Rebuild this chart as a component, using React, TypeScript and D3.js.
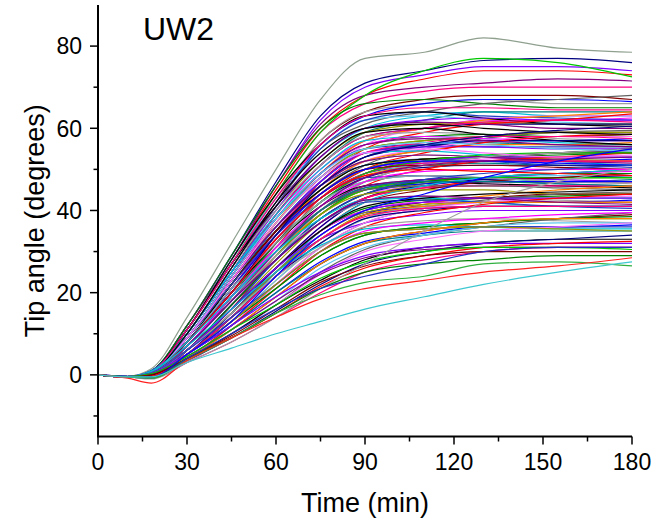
import React, { useMemo } from "react";
import * as d3 from "d3";

// Sampling times (min) for each tip-angle trace
const TIMES = [0, 10, 18, 30, 45, 60, 75, 90, 110, 130, 155, 180];

// Traces, grouped by final angle band (degrees)
const band75to82 = [
  [0, -0.3, 1.5, 14, 32, 50, 67, 77, 78.5, 82, 79.5, 78.5],
  [0, -0.4, 1, 12, 29, 47, 63, 71, 74, 76.5, 77, 76],
  [0, -0.3, 1, 12, 29, 46, 62, 70, 73, 75, 75, 74],
  [0, -0.5, 0.5, 11, 28, 45, 60, 68, 72, 74, 74, 73],
];
const band65to72 = [
  [0, -0.4, 0.8, 12, 28, 46, 61, 68, 70, 71, 72, 71.5],
  [0, -0.6, 0.3, 11, 27, 44, 59, 66, 69, 70, 70, 70],
  [0, -0.5, 0.5, 11, 27, 44, 59, 68, 74, 77, 76, 72.5],
  [0, -0.4, 0.2, 10, 26, 42, 57, 64, 67, 68, 68, 67],
  [0, -0.5, 0.5, 11, 27, 43, 57, 64, 66, 67, 66, 66],
  [0, -0.6, 0, 10, 25, 41, 56, 63, 66, 67, 67, 66.5],
  [0, -0.5, 1, 12, 29, 46, 60, 66, 67, 66, 65, 65],
  [0, -0.4, 0.3, 10, 25, 41, 55, 61, 64, 66, 67, 68],
];
const band60to65 = [
  [0, -0.5, 0.5, 10, 26, 41, 53, 60, 63, 64, 63, 63],
  [0, -0.5, 0, 9, 24, 39, 51, 59, 62, 64, 64, 64],
  [0, -0.3, 1, 11, 28, 43, 55, 62, 63, 62, 61.5, 61],
  [0, -0.6, -0.3, 9, 23, 38, 50, 57, 60, 62, 62, 62.5],
  [0, -0.5, 0.8, 11, 27, 42, 55, 62, 64, 63, 62.5, 62],
  [0, -0.5, -0.5, 8, 21, 35, 48, 56, 60, 62, 63, 63],
  [0, -0.4, 0.5, 10, 25, 40, 52, 59, 61, 61.5, 61, 61],
  [0, -0.6, -0.3, 9, 22, 37, 49, 57, 60, 62, 63, 64],
  [0, -0.5, 1, 11, 28, 44, 56, 63, 64, 62.5, 61, 60.5],
  [0, -0.5, 0.2, 9, 24, 39, 51, 58, 60, 61, 61, 61],
  [0, -0.4, 0.5, 10, 25, 40, 53, 60, 62, 62.5, 62, 62],
  [0, -0.5, -0.5, 8, 20, 34, 47, 55, 59, 61, 62, 63.5],
  [0, -0.5, 0.6, 10, 26, 41, 53, 60, 61.5, 61, 60, 60],
  [0, -0.6, 0, 9, 24, 39, 51, 58, 60, 61.5, 62, 61.5],
];
const band55to60 = [
  [0, -0.5, 0.3, 9, 23, 37, 48, 55, 57, 58, 58, 58],
  [0, -0.5, -0.3, 8, 21, 35, 46, 53, 56, 58, 59, 59],
  [0, -0.3, 1, 10, 26, 40, 51, 58, 59, 58.5, 57.5, 57],
  [0, -0.6, 0, 9, 22, 36, 47, 54, 56, 57, 57, 57.5],
  [0, -0.5, 0.5, 9, 24, 38, 49, 56, 58, 58.5, 58, 58.5],
  [0, -0.5, -0.6, 7, 19, 32, 44, 51, 55, 57.5, 59, 59.5],
  [0, -0.4, 0.8, 10, 25, 39, 50, 57, 58, 57.5, 56.5, 56],
  [0, -0.5, 0.2, 9, 22, 36, 47, 54, 56, 56.5, 56, 56],
  [0, -0.6, -0.3, 8, 21, 34, 46, 53, 55.5, 57, 57, 57],
  [0, -0.5, 0.5, 9, 24, 38, 49, 56, 58, 57.5, 57, 57],
  [0, -0.4, 1, 10, 25, 38, 49, 55, 56, 55.5, 55.5, 55.5],
  [0, -0.5, -0.4, 8, 20, 33, 45, 52, 55, 57, 58, 58],
  [0, -0.5, 0.3, 9, 23, 37, 48, 55, 57, 58, 59, 59],
  [0, -0.6, -0.2, 8, 21, 34, 45, 52, 54.5, 56, 56, 56.5],
  [0, -0.5, 0.8, 11, 27, 41, 52, 59, 60, 58.5, 57, 56],
  [0, -0.5, 0, 8, 22, 35, 46, 53, 55.5, 57, 57, 57],
  [0, -0.4, 0.4, 9, 23, 36, 47, 54, 55.5, 55.5, 55, 55],
  [0, -0.5, -0.6, 7, 18, 31, 43, 50, 54, 56.5, 58, 58.5],
  [0, -0.5, 0.5, 9, 24, 38, 49, 56, 57.5, 57, 56, 55.5],
  [0, -0.6, 0, 8, 21, 35, 46, 54, 56.5, 58, 58, 57.5],
];
const band50to55 = [
  [0, -0.5, 0.3, 8, 21, 34, 44, 50, 52.5, 53, 53, 53],
  [0, -0.5, -0.3, 7, 19, 32, 42, 49, 52, 53, 54, 54],
  [0, -0.4, 0.8, 9, 23, 36, 46, 52, 53.5, 53, 52, 52],
  [0, -0.6, 0, 8, 20, 33, 43, 49, 51.5, 52, 52, 52.5],
  [0, -0.5, 0.4, 8, 22, 35, 45, 51, 52.5, 53, 53.5, 54],
  [0, -0.5, -0.6, 6, 17, 29, 40, 47, 51, 53, 54, 54.5],
  [0, -0.4, 1, 10, 25, 38, 48, 54, 54.5, 53.5, 52, 51],
  [0, -0.5, 0.2, 8, 20, 33, 43, 49, 51, 51.5, 51, 51],
  [0, -0.6, -0.3, 7, 18, 31, 41, 48, 51.5, 53, 53, 53],
  [0, -0.5, 0.4, 8, 21, 34, 44, 50, 52, 52, 52, 52],
  [0, -0.4, 0.8, 9, 23, 36, 46, 51, 52.5, 52, 51, 50.5],
  [0, -0.5, -0.5, 6, 17, 30, 41, 48, 51, 52.5, 53, 53.5],
  [0, -0.5, 0.3, 8, 21, 34, 44, 50, 52.5, 53, 52.5, 52],
  [0, -0.6, -0.2, 7, 19, 32, 42, 48.5, 51, 52, 52, 52],
  [0, -0.5, 0.5, 8, 22, 35, 45, 51, 52.5, 53, 54, 55],
  [0, -0.5, 0, 7, 19, 32, 42, 48, 50.5, 51, 51, 51],
  [0, -0.4, 0.4, 8, 21, 34, 44, 50, 52, 53, 53, 53],
  [0, -0.5, -0.6, 6, 16, 29, 39, 46, 50, 52, 53, 54],
  [0, -0.5, 0.6, 9, 23, 36, 46, 52, 53.5, 53, 52, 51.5],
  [0, -0.6, 0, 8, 20, 33, 43, 49, 51.5, 52, 52, 52],
  [0, -0.5, 0.1, 7, 19, 32, 42, 49, 52, 53.5, 54, 54],
  [0, -0.4, 0.7, 9, 22, 35, 44, 50, 51, 51, 50.5, 50],
  [0, -0.5, -0.5, 6, 17, 29, 40, 47, 51, 53, 54, 55],
  [0, -0.5, 0.4, 8, 21, 34, 44, 50, 52, 52, 51.5, 51],
];
const band45to50 = [
  [0, -0.5, 0.2, 7, 19, 30, 40, 45, 47.5, 48, 48, 48],
  [0, -0.5, -0.3, 6, 17, 28, 38, 44, 47, 48, 49, 49],
  [0, -0.4, 0.7, 8, 21, 32, 42, 47, 48.5, 48, 47, 47],
  [0, -0.6, 0, 7, 18, 29, 39, 45, 46.5, 47, 47, 47.5],
  [0, -0.5, 0.3, 7, 19, 31, 40, 46, 47.5, 48, 48.5, 49],
  [0, -0.5, -0.6, 5, 15, 26, 36, 43, 46, 48, 49, 49.5],
  [0, -0.4, 1, 9, 22, 34, 43, 48, 48.5, 47.5, 46.5, 46],
  [0, -0.5, 0.1, 7, 18, 29, 38, 44, 46, 46.5, 46, 46],
  [0, -0.6, -0.3, 6, 16, 27, 37, 43, 46.5, 48, 48, 48],
  [0, -0.5, 0.3, 7, 19, 30, 39, 45, 47, 47, 47, 47],
  [0, -0.4, 0.7, 8, 20, 32, 41, 46, 47, 46.5, 46, 45.5],
  [0, -0.5, -0.5, 5, 15, 26, 36, 43, 46, 47.5, 48, 48.5],
  [0, -0.5, 0.3, 7, 19, 30, 40, 45.5, 47.5, 48, 47.5, 47],
  [0, -0.6, -0.2, 6, 17, 28, 37, 43, 45.5, 47, 47, 47],
  [0, -0.5, 0.4, 7, 19, 30, 40, 46, 47.5, 48, 49, 50],
  [0, -0.5, 0, 6, 17, 28, 37, 43, 45.5, 46, 46, 46],
  [0, -0.4, 0.3, 7, 18, 29, 39, 45, 47, 48, 48, 48],
  [0, -0.5, -0.6, 5, 14, 25, 35, 42, 45, 47, 48, 49],
  [0, -0.5, 0.6, 8, 21, 32, 42, 47, 48.5, 48, 47, 46.5],
  [0, -0.6, 0, 6, 17, 28, 38, 44, 46.5, 47, 47, 47],
  [0, -0.5, 0, 6, 17, 28, 38, 44, 47, 48, 49, 49],
  [0, -0.4, 0.6, 8, 20, 31, 40, 45, 46, 46, 45.5, 45],
  [0, -0.5, -0.5, 5, 14, 25, 35, 42, 46, 48, 49, 50],
  [0, -0.5, 0.3, 7, 19, 30, 40, 45.5, 47, 47, 46.5, 46],
];
const bandMixed = [
  [0, -0.4, 0.6, 9, 24, 38, 49, 55, 56.5, 56, 55, 54.5],
  [0, -0.5, 0, 7, 19, 31, 41, 47, 49.5, 50, 50, 50],
  [0, -0.6, -0.4, 6, 16, 28, 38, 44, 47.5, 49, 50, 51],
  [0, -0.5, 0.5, 9, 23, 37, 48, 54, 55, 54, 53, 53],
  [0, -0.4, 0.2, 7, 18, 29, 39, 44, 45, 45, 44, 44],
  [0, -0.5, -0.5, 5, 13, 23, 32, 38, 41.5, 43.5, 45, 46],
  [0, -0.5, 0.7, 10, 26, 42, 54, 60, 61, 60, 59, 58.5],
  [0, -0.6, -0.2, 8, 20, 34, 46, 53, 56, 58, 59.5, 60.5],
  [0, -0.4, 0.3, 6, 15, 25, 33, 37, 39, 40, 40, 40],
  [0, -0.5, 0.5, 8, 20, 33, 43, 48.5, 50, 49.5, 49, 48.5],
  [0, -0.5, -0.3, 7, 18, 30, 41, 48, 51, 52, 52.5, 53],
  [0, -0.4, 0.8, 11, 27, 43, 56, 63, 65, 65, 64.5, 64.5],
];
const band40to45 = [
  [0, -0.5, 0.2, 6, 16, 26, 35, 40, 42, 43, 43, 43],
  [0, -0.5, -0.3, 5, 14, 24, 33, 39, 42, 43, 44, 44],
  [0, -0.4, 0.6, 7, 18, 29, 37, 42, 43.5, 43, 42.5, 42],
  [0, -0.6, 0, 6, 15, 25, 34, 39.5, 41, 42, 42, 42.5],
  [0, -0.5, 0.3, 6, 16, 26, 35, 40.5, 42.5, 43, 43.5, 44],
  [0, -0.5, -0.6, 4, 12, 22, 31, 37, 40.5, 42.5, 44, 44.5],
  [0, -0.4, 0.9, 8, 19, 30, 38, 42.5, 43, 42, 41, 41],
  [0, -0.5, 0.1, 6, 15, 25, 33, 39, 40.5, 41, 41, 41],
  [0, -0.6, -0.3, 5, 13, 23, 32, 38, 41, 42, 43, 43],
  [0, -0.5, 0.3, 6, 16, 26, 35, 40, 42, 42, 42, 42],
  [0, -0.4, 0.7, 7, 18, 28, 37, 42, 42.5, 42, 41, 40.5],
  [0, -0.5, -0.5, 4, 12, 22, 31, 37, 40.5, 42, 43, 43.5],
  [0, -0.5, 0.2, 6, 15, 25, 34, 39.5, 41.5, 42, 42, 42],
  [0, -0.6, -0.2, 5, 14, 24, 33, 39, 41, 42, 42, 42],
  [0, -0.5, 0.4, 6, 16, 26, 35, 41, 43, 44, 44.5, 45],
  [0, -0.5, 0, 5, 14, 24, 32, 38, 40, 41, 41, 41],
  [0, -0.4, 0.3, 6, 16, 26, 34, 40, 42, 43, 43, 43],
  [0, -0.5, -0.6, 4, 12, 21, 30, 36, 39.5, 41.5, 43, 44],
  [0, -0.5, 0.6, 7, 18, 28, 37, 42.5, 43.5, 43, 42, 41.5],
  [0, -0.6, 0, 5, 14, 24, 33, 38.5, 40.5, 41, 41, 41],
];
const band35to40 = [
  [0, -0.5, 0.1, 5, 13, 21, 29, 34, 36, 37, 38, 38],
  [0, -0.5, -0.4, 4, 11, 19, 27, 32, 35, 37, 38, 39],
  [0, -0.4, 0.5, 6, 15, 24, 31, 36, 37.5, 38, 37.5, 37],
  [0, -0.6, -0.2, 5, 12, 20, 27.5, 32.5, 34.5, 36, 36, 36.5],
  [0, -0.5, 0.2, 5, 13, 21, 29, 34, 36, 37, 38, 38.5],
  [0, -0.5, -0.8, 3, 10, 17, 25, 30.5, 34, 36, 38, 39.5],
  [0, -0.4, 0.8, 7, 16, 25, 31.5, 35.5, 36.5, 36, 35.5, 35.5],
  [0, -0.5, 0, 5, 12, 20, 27, 32, 34, 35, 35, 35],
  [0, -0.6, -0.4, 4, 11, 18, 26, 31, 34, 36, 37, 37],
  [0, -0.5, 0.2, 5, 13, 22, 30, 35, 37, 38, 39, 39.5],
  [0, -0.4, 0.5, 6, 14, 22, 30, 34.5, 35.5, 36, 36, 36],
  [0, -0.5, -0.6, 3, 10, 17, 24.5, 30, 33, 35, 36, 37],
  [0, -0.5, 0.3, 5, 13, 22, 30, 34.5, 35.5, 36, 35.5, 35],
  [0, -0.6, -0.3, 4, 11, 19, 27, 32, 35, 37, 38, 38],
];
const band30to35 = [
  [0, -0.5, 0, 4, 10, 17, 23, 28, 31, 32, 33, 33],
  [0, -0.5, -0.5, 3.5, 9, 15.5, 22, 27, 30, 32, 33, 34],
  [0, -0.4, 0.4, 5, 12, 19, 25, 29, 31, 32, 32, 32],
  [0, -0.6, -0.3, 4, 9, 15, 21.5, 26, 29, 31, 32, 32.5],
  [0, -0.5, 0.2, 4.5, 11, 18, 24.5, 28.5, 30.5, 31, 31, 31],
  [0, -0.5, -0.8, 3, 8, 14, 20, 25, 28, 30, 31, 31],
  [0, -0.4, 0.3, 4.5, 11, 17, 23.5, 27.5, 30, 31, 31, 30.5],
  [0, -0.5, 0, 4, 9.5, 16, 22.5, 26.5, 29, 30, 30, 30],
];
const bandLowAndLate = [
  [0, -0.5, -1, 3, 8, 14, 21, 27, 35, 42, 47, 50],
  [0, -0.4, -0.5, 5, 13, 24, 34, 40, 44, 48, 52, 55],
  [0, -0.5, -0.6, 4, 9, 15, 21, 25, 27, 28, 29, 29],
  [0, -0.5, -0.8, 4, 10, 16, 21, 24, 27, 30, 31, 31],
  [0, -0.5, -0.8, 3.5, 9, 15, 19.5, 22.5, 24, 27, 27.5, 26.5],
  [0, -0.8, -2, 3.5, 9, 14, 18.5, 21, 23, 25, 26.5, 28.5],
  [0, -0.5, -0.5, 3, 6.5, 10, 13, 16, 19, 22, 25, 27.5],
];

const X_TICKS = [0, 30, 60, 90, 120, 150, 180];
const X_MINOR = [15, 45, 75, 105, 135, 165];
const Y_TICKS = [0, 20, 40, 60, 80];
const Y_MINOR = [-10, 10, 30, 50, 70];

// Origin-style colour increment list
const PALETTE = [
  "#000000", "#FF0000", "#00C800", "#0000FF", "#00C0D8", "#FF00FF",
  "#9A9A00", "#000080", "#800080", "#800000", "#008000", "#008080",
  "#2040C0", "#FF8000", "#8000FF", "#FF0080", "#A0A0A0", "#606060",
  "#60C8F0", "#FF70FF",
];

const FONT = "'Liberation Sans', Arial, Helvetica, sans-serif";

export default function App() {
  const width = 659;
  const height = 524;
  const x = d3.scaleLinear().domain([0, 180]).range([98, 632]);
  const y = d3.scaleLinear().domain([-15, 90]).range([436.5, 5]);

  const traces = useMemo(
    () => [
      ...band75to82,
      ...band65to72,
      ...band60to65,
      ...band55to60,
      ...band50to55,
      ...band45to50,
      ...bandMixed,
      ...band40to45,
      ...band35to40,
      ...band30to35,
      ...bandLowAndLate,
    ],
    []
  );

  const n = traces.length;
  const colorFor = (i: number) => {
    if (i === 0) return "#8FA08F";
    if (i === n - 1) return "#3FC8D0";
    if (i === n - 2) return "#FF2020";
    if (i === n - 3) return "#30B040";
    if (i === n - 4) return "#2030C0";
    return PALETTE[(i * 7) % PALETTE.length];
  };

  const line = d3
    .line<number>()
    .x((_, i) => x(TIMES[i]))
    .y((d) => y(d))
    .curve(d3.curveMonotoneX);

  const x0 = x(0);
  const yBase = y(-15);

  return (
    <svg
      width={width}
      height={height}
      style={{ position: "absolute", left: 0, top: 0, background: "#fff" }}
    >
      <g>
        {traces.map((row, i) => (
          <path
            key={i}
            d={line(row) || ""}
            fill="none"
            stroke={colorFor(i)}
            strokeWidth={1.2}
          />
        ))}
      </g>

      {/* Y axis */}
      <line x1={x0} x2={x0} y1={y(90)} y2={yBase} stroke="#000" strokeWidth={2} />
      {Y_TICKS.map((v) => (
        <g key={"yt" + v}>
          <line x1={x0 - 8} x2={x0} y1={y(v)} y2={y(v)} stroke="#000" strokeWidth={1.5} />
          <text
            x={82}
            y={y(v) + 8.3}
            textAnchor="end"
            fontFamily={FONT}
            fontSize={23}
            fill="#000"
          >
            {v}
          </text>
        </g>
      ))}
      {Y_MINOR.map((v) => (
        <line key={"ym" + v} x1={x0 - 4.5} x2={x0} y1={y(v)} y2={y(v)} stroke="#000" strokeWidth={1.5} />
      ))}

      {/* X axis */}
      <line x1={x0 - 1} x2={x(180)} y1={yBase} y2={yBase} stroke="#000" strokeWidth={2} />
      {X_TICKS.map((t) => (
        <g key={"xt" + t}>
          <line x1={x(t)} x2={x(t)} y1={yBase} y2={yBase + 8} stroke="#000" strokeWidth={1.5} />
          <text
            x={x(t)}
            y={470}
            textAnchor="middle"
            fontFamily={FONT}
            fontSize={23}
            fill="#000"
          >
            {t}
          </text>
        </g>
      ))}
      {X_MINOR.map((t) => (
        <line key={"xm" + t} x1={x(t)} x2={x(t)} y1={yBase} y2={yBase + 5} stroke="#000" strokeWidth={1.5} />
      ))}

      {/* Titles */}
      <text
        x={(x(0) + x(180)) / 2}
        y={512}
        textAnchor="middle"
        fontFamily={FONT}
        fontSize={27}
        fill="#000"
      >
        Time (min)
      </text>
      <text
        transform={`translate(44, ${(y(90) + yBase) / 2}) rotate(-90)`}
        textAnchor="middle"
        fontFamily={FONT}
        fontSize={27}
        fill="#000"
      >
        Tip angle (degrees)
      </text>
      <text x={143} y={40} fontFamily={FONT} fontSize={32} fill="#000">
        UW2
      </text>
    </svg>
  );
}
